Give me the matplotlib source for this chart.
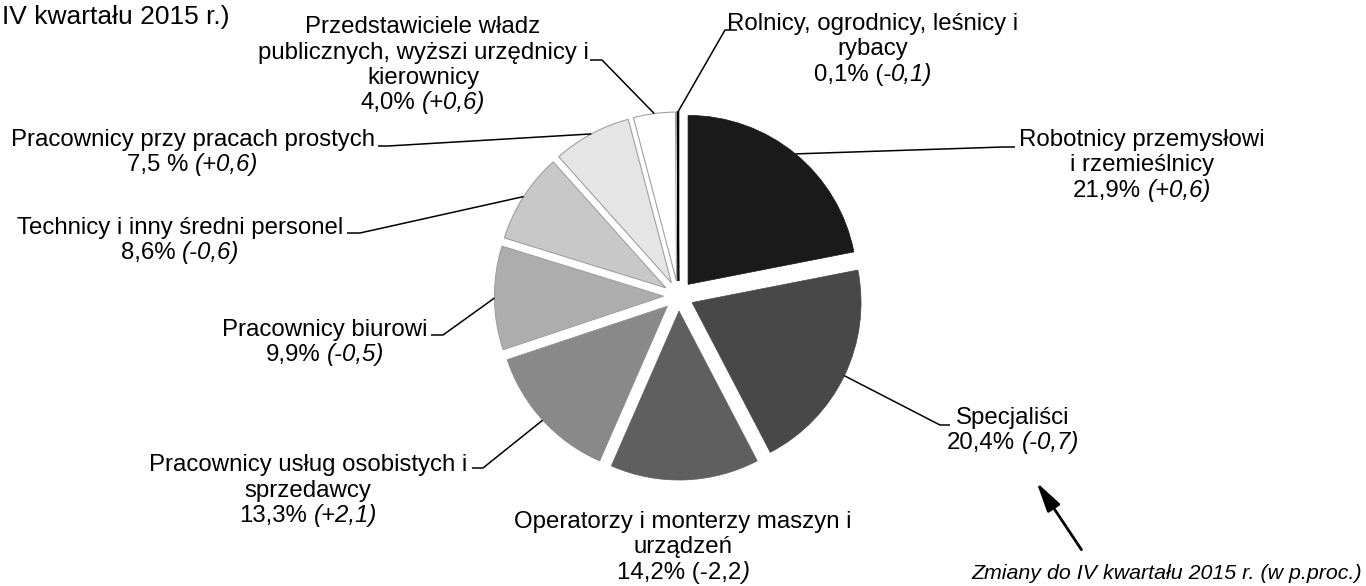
import math

import matplotlib
matplotlib.use("Agg")
import matplotlib.pyplot as plt

plt.rcParams['font.family'] = ['Liberation Sans', 'DejaVu Sans']

W, H = 1366, 586

# pracujacy wg grup zawodow: udzial (%) i zmiana do IV kw. 2015 (p.proc.)
groups = ["Robotnicy przemysłowi\ni rzemieślnicy",
          "Specjaliści",
          "Operatorzy i monterzy maszyn i\nurządzeń",
          "Pracownicy usług osobistych i\nsprzedawcy",
          "Pracownicy biurowi",
          "Technicy i inny średni personel",
          "Pracownicy przy pracach prostych",
          "Przedstawiciele władz\npublicznych, wyższi urzędnicy i\nkierownicy",
          "Rolnicy, ogrodnicy, leśnicy i\nrybacy"]
shares = [21.9, 20.4, 14.2, 13.3, 9.9, 8.6, 7.5, 4.0, 0.1]
share_labels = ["21,9%", "20,4%", "14,2%", "13,3%", "9,9%", "8,6%", "7,5 %", "4,0%", "0,1%"]
changes = ["+0,6", "-0,7", "-2,2", "+2,1", "-0,5", "-0,6", "+0,6", "+0,6", "-0,1"]
# index in the value line where the italic part starts (as in the source)
italic_from = [6, 6, 11, 6, 5, 5, 6, 5, 7]

colors = ["#1a1a1a", "#484848", "#5f5f5f", "#898989", "#adadad",
          "#c8c8c8", "#e5e5e5", "#ffffff", "#000000"]

# layout, in picture pixels (x, baseline of first line), y from the top
label_pos = [(1142, 146), (1013, 424), (683, 528), (308, 471), (325, 336),
             (180, 234), (193, 146), (423, 33), (873, 30)]
leaders = [[(1003, 147), (1015, 147)], [(940, 425), (950, 425)], None,
           [(483, 468), (472, 468)], [(443, 335), (431, 335)],
           [(360, 233), (347, 233)], [(388, 146), (378, 146)],
           [(602, 60), (590, 60)], [(725, 30), (737, 30)]]

FS = 17.3
LS = 25.5

fig = plt.figure(figsize=(W / 100, H / 100), dpi=100)
ax = fig.add_axes([0, 0, 1, 1])

radius = 169
wedges, _ = ax.pie(shares, colors=colors, startangle=90, counterclock=False,
                   explode=[0.089 * radius] * len(shares),
                   center=(678.5, H - 296), radius=radius)
ax.set_xlim(0, W)
ax.set_ylim(0, H)
ax.set_axis_off()

for w in wedges:
    fc = w.get_facecolor()
    if sum(fc[:3]) / 3 > 0.6:
        w.set_edgecolor('#a0a0a0')
        w.set_linewidth(0.8)
    else:
        w.set_edgecolor(fc)
        w.set_linewidth(0.5)
wedges[-1].set_linewidth(1.2)  # 0,1% - just a sliver

r = fig.canvas.get_renderer()


def width(s, style='normal'):
    t = ax.text(0, 0, s, fontsize=FS, style=style)
    w = t.get_window_extent(r).width
    t.remove()
    return w


space = width("a a") - width("aa")

for i, w in enumerate(wedges):
    cx, by = label_pos[i]
    lines = groups[i].split("\n")
    for j, line in enumerate(lines):
        ax.text(cx, H - (by + j * LS), line, ha='center', va='baseline', fontsize=FS)

    # value line: regular share + italic change
    val = f"{share_labels[i]} ({changes[i]})"
    k = italic_from[i]
    reg, it = val[:k], val[k:]
    gap = space if reg.endswith(' ') else 0
    reg = reg.rstrip()
    wr, wi = width(reg), width(it, 'italic')
    x0 = cx - (wr + gap + wi) / 2
    y = H - (by + len(lines) * LS)
    ax.text(x0, y, reg, ha='left', va='baseline', fontsize=FS)
    ax.text(x0 + wr + gap, y, it, ha='left', va='baseline', fontsize=FS, style='italic')

    # leader line from the middle of the arc
    if leaders[i] is not None:
        tm = math.radians((w.theta1 + w.theta2) / 2)
        ax_, ay_ = w.center[0] + w.r * math.cos(tm), w.center[1] + w.r * math.sin(tm)
        xs = [ax_] + [p[0] for p in leaders[i]]
        ys = [ay_] + [H - p[1] for p in leaders[i]]
        ax.plot(xs, ys, color='black', lw=1.1, solid_capstyle='butt')

ax.text(2, H - 24, "IV kwartału 2015 r.)", ha='left', va='baseline', fontsize=19)
ax.text(1362, H - 579, "Zmiany do IV kwartału 2015 r. (w p.proc.)", ha='right',
        va='baseline', fontsize=15.4, style='italic')
ax.annotate('', xy=(1035, H - 480), xytext=(1083, H - 552),
            arrowprops=dict(arrowstyle='-|>,head_length=1.2,head_width=0.3',
                            color='black', lw=2, mutation_scale=15))

fig.savefig('out.png', dpi=100)
